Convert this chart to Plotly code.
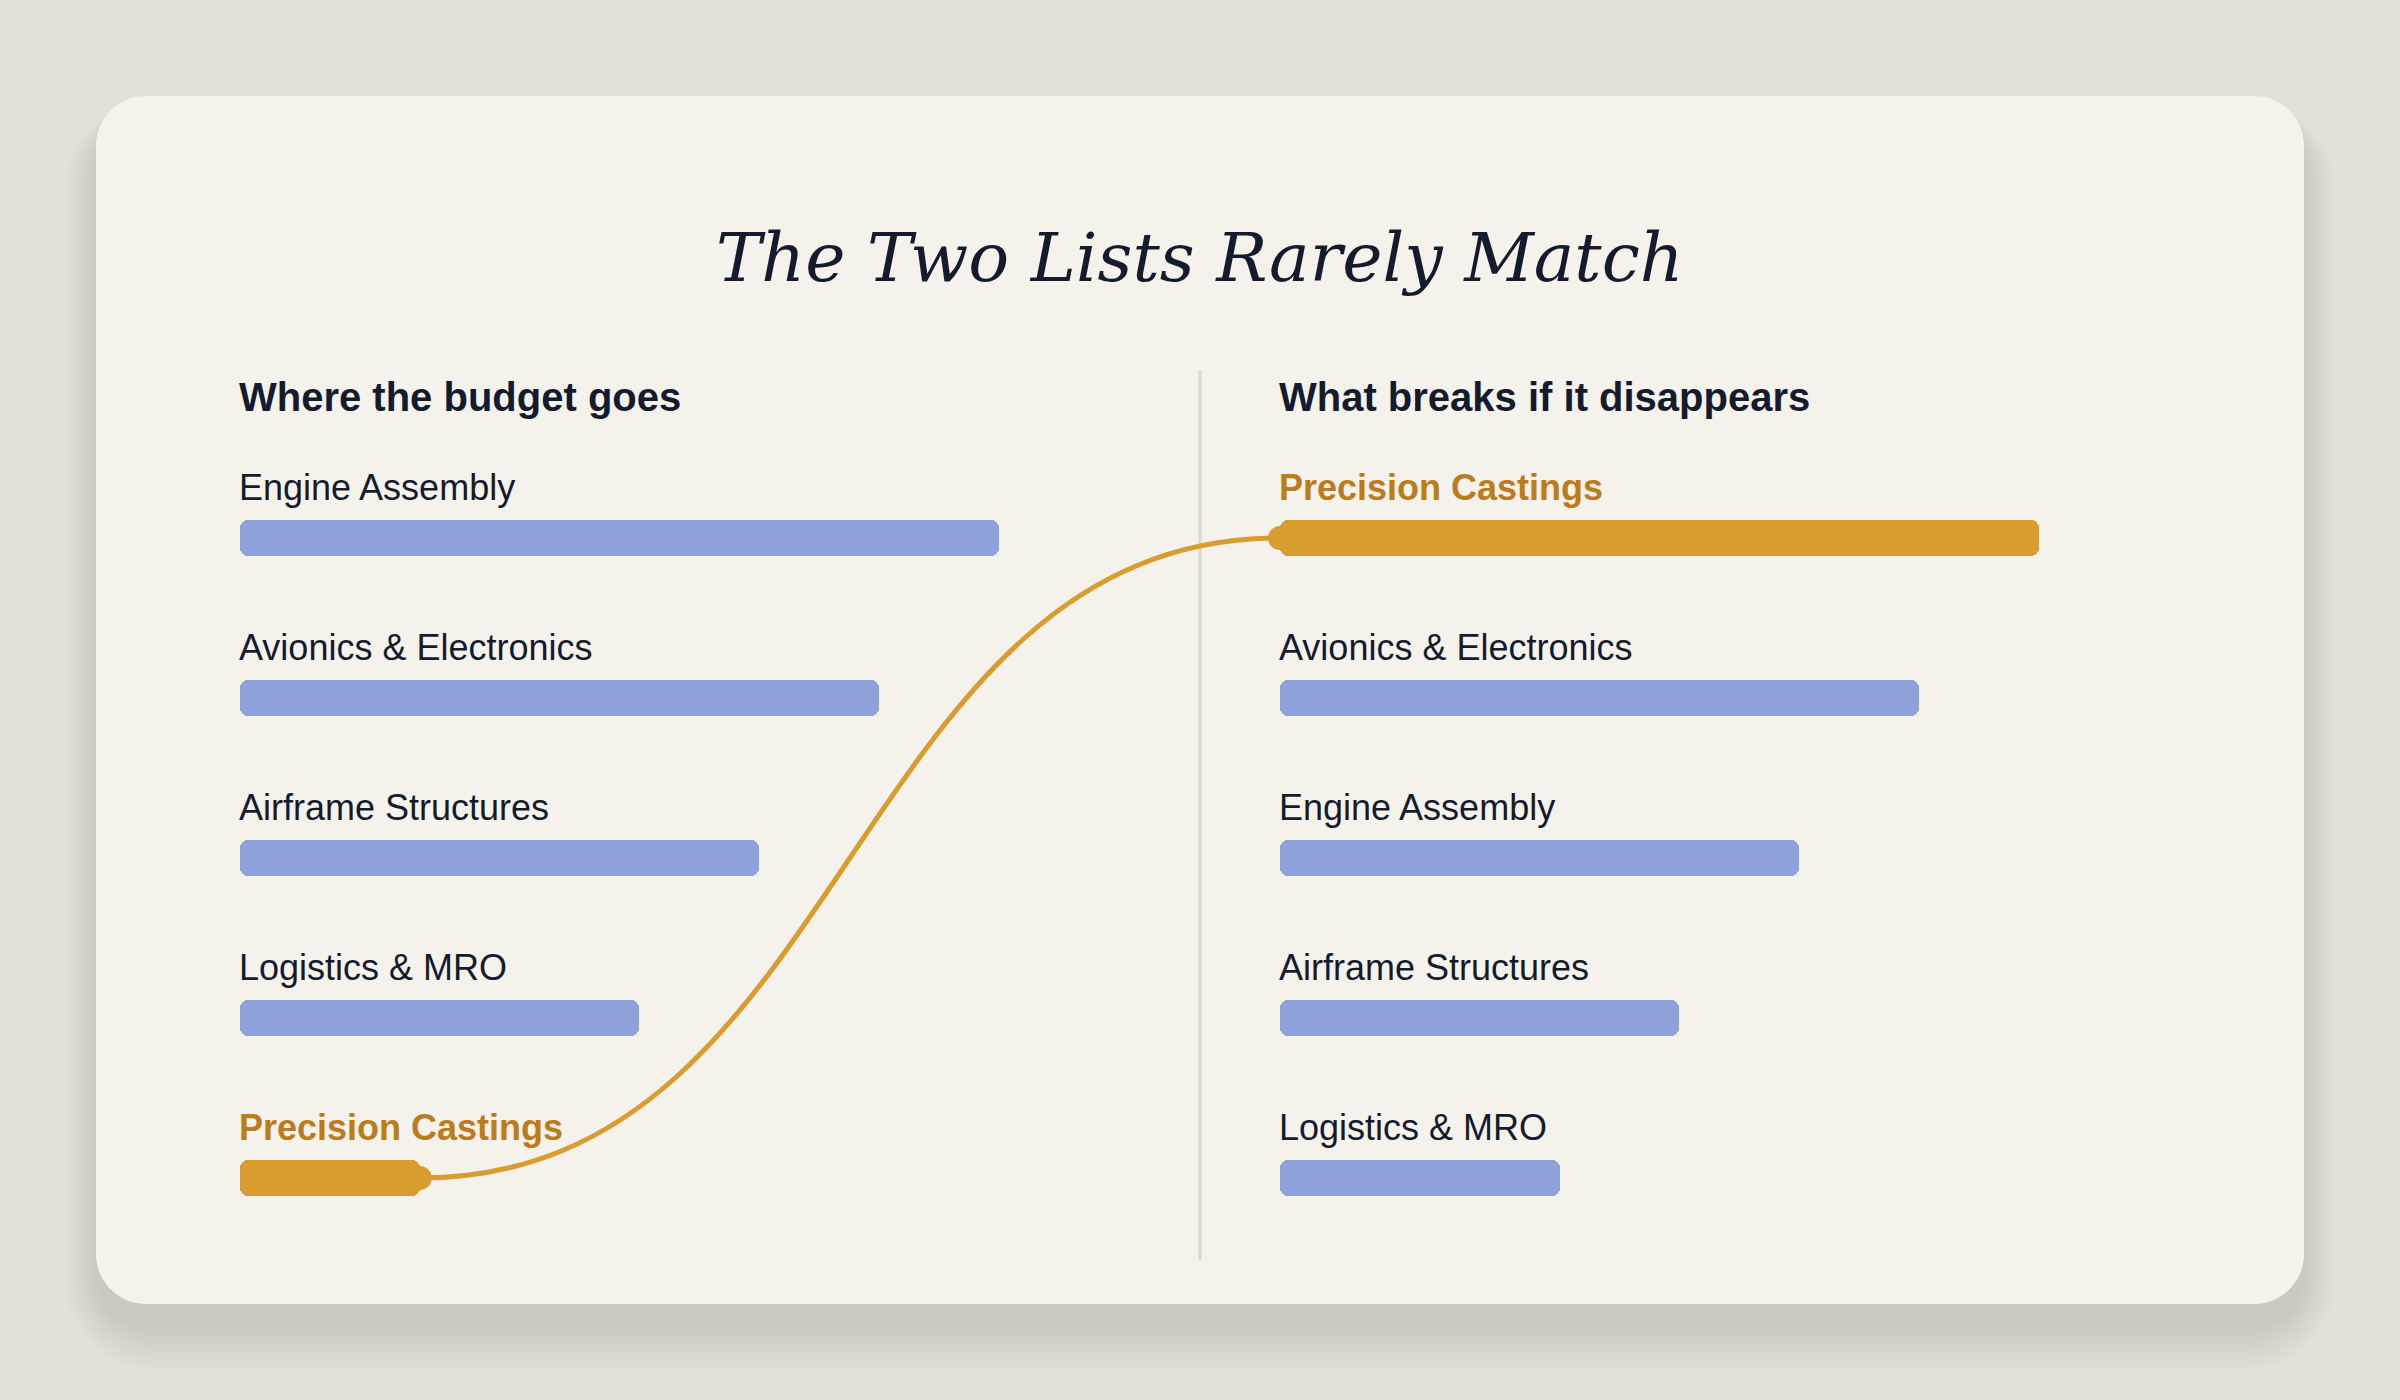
import plotly.graph_objects as go

# ---------------- data ----------------
left_title = "Where the budget goes"
right_title = "What breaks if it disappears"
chart_title = "The Two Lists Rarely Match"

left_items = ["Engine Assembly", "Avionics & Electronics", "Airframe Structures",
              "Logistics & MRO", "Precision Castings"]
left_values = [38, 32, 26, 20, 9]          # budget share

right_items = ["Precision Castings", "Avionics & Electronics", "Engine Assembly",
               "Airframe Structures", "Logistics & MRO"]
right_values = [95, 80, 65, 50, 35]        # criticality score

highlight = "Precision Castings"

# ---------------- style ----------------
W, H = 2400, 1400
BG = "#e3e0d9"
CARD = "#f5f2eb"
INK = "#141b2d"
BLUE = "#8fa1d9"
GOLD = "#d99c2f"
GOLD_TXT = "#bb7b1f"
DIVIDER = "#dcd7cd"
SANS = "Liberation Sans, Arial, Helvetica, sans-serif"
SERIF = "DejaVu Serif, serif"

def px(x):
    return x / W

def py(y):
    return 1 - y / H

# layout geometry (pixels)
L_X0, L_X1 = 240, 999
R_X0, R_X1 = 1280, 2039
ROW_TOP, ROW_STEP = 458, 160
n = len(left_items)
Y_TOP, Y_BOT = ROW_TOP, ROW_TOP + ROW_STEP * n
BAR_W = 36 / ROW_STEP

left_max = max(left_values)
right_max = max(right_values)
rows = list(range(n))

def left_x_px(v):
    return L_X0 + (L_X1 - L_X0) * v / left_max

def right_x_px(v):
    return R_X0 + (R_X1 - R_X0) * v / right_max

def row_px(i):
    return Y_TOP + ROW_STEP * (i + 0.5)

def rrect_path(x0, y0, x1, y1, r):
    k = 0.5523 * r
    P = lambda x, y: f"{px(x):.6f},{py(y):.6f}"
    return (f"M {P(x0 + r, y0)} L {P(x1 - r, y0)} "
            f"C {P(x1 - r + k, y0)} {P(x1, y0 + r - k)} {P(x1, y0 + r)} "
            f"L {P(x1, y1 - r)} "
            f"C {P(x1, y1 - r + k)} {P(x1 - r + k, y1)} {P(x1 - r, y1)} "
            f"L {P(x0 + r, y1)} "
            f"C {P(x0 + r - k, y1)} {P(x0, y1 - r + k)} {P(x0, y1 - r)} "
            f"L {P(x0, y0 + r)} "
            f"C {P(x0, y0 + r - k)} {P(x0 + r - k, y0)} {P(x0 + r, y0)} Z")

fig = go.Figure()

# bars: each bar is drawn as two overlapping parts growing outward,
# so that both ends of the visible bar get rounded corners
def add_rounded_bars(values, items, xa, ya):
    colors = [GOLD if s == highlight else BLUE for s in items]
    fig.add_trace(go.Bar(   # left part: [0, 0.6v], rounded at 0
        x=[-0.6 * v for v in values], base=[0.6 * v for v in values], y=rows,
        orientation="h", width=BAR_W,
        marker=dict(color=colors, line=dict(width=0), cornerradius=8),
        xaxis=xa, yaxis=ya, hoverinfo="skip", showlegend=False))
    fig.add_trace(go.Bar(   # right part: [0.4v, v], rounded at v
        x=[0.6 * v for v in values], base=[0.4 * v for v in values], y=rows,
        orientation="h", width=BAR_W,
        marker=dict(color=colors, line=dict(width=0), cornerradius=8),
        xaxis=xa, yaxis=ya, hoverinfo="skip", showlegend=False))

add_rounded_bars(left_values, left_items, "x", "y")
add_rounded_bars(right_values, right_items, "x2", "y2")

# knobs at the connector ends
li = left_items.index(highlight)
ri = right_items.index(highlight)
fig.add_trace(go.Scatter(
    x=[left_values[li]], y=[li], mode="markers", xaxis="x", yaxis="y",
    marker=dict(size=24, color=GOLD, line=dict(width=0)),
    cliponaxis=False, hoverinfo="skip", showlegend=False))
fig.add_trace(go.Scatter(
    x=[0], y=[ri], mode="markers", xaxis="x2", yaxis="y2",
    marker=dict(size=24, color=GOLD, line=dict(width=0)),
    cliponaxis=False, hoverinfo="skip", showlegend=False))

shapes = []
# card shadow
CX0, CY0, CX1, CY1 = 96, 96, 2304, 1304
for e in range(0, 48, 4):
    shapes.append(dict(type="path", xref="paper", yref="paper", layer="below",
                       path=rrect_path(CX0 - e * 0.7, CY0 - e * 0.5 + 24,
                                       CX1 + e * 0.7, CY1 + e + 24, 50 + e),
                       fillcolor="rgba(70,60,45,0.012)", line=dict(width=0)))
# card
shapes.append(dict(type="path", xref="paper", yref="paper", layer="below",
                   path=rrect_path(CX0, CY0, CX1, CY1, 50),
                   fillcolor=CARD, line=dict(width=0)))
# divider
shapes.append(dict(type="line", xref="paper", yref="paper", layer="below",
                   x0=px(1200), x1=px(1200), y0=py(370), y1=py(1260),
                   line=dict(color=DIVIDER, width=3)))
# connector curve
x0c, y0c = left_x_px(left_values[li]), row_px(li)
x1c, y1c = right_x_px(0), row_px(ri)
xm = (x0c + x1c) / 2
shapes.append(dict(type="path", xref="paper", yref="paper", layer="below",
                   path=(f"M {px(x0c)},{py(y0c)} C {px(xm)},{py(y0c)} "
                         f"{px(xm)},{py(y1c)} {px(x1c)},{py(y1c)}"),
                   line=dict(color=GOLD, width=5)))

annotations = []
# title
annotations.append(dict(text=chart_title, xref="paper", yref="paper",
                        x=0.5, y=py(281 - 0.346 * 68), xanchor="center", yanchor="middle",
                        showarrow=False,
                        font=dict(family=SERIF, size=68, color=INK, style="italic")))
# column headers
for txt, x in [(left_title, L_X0), (right_title, R_X0)]:
    annotations.append(dict(text=f"<b>{txt}</b>", xref="paper", yref="paper",
                            x=px(x - 3), y=py(411 - 0.3465 * 40), xanchor="left",
                            yanchor="middle", showarrow=False,
                            font=dict(family=SANS, size=40, color=INK)))
# item labels
for items, xr, yr in [(left_items, "x", "y"), (right_items, "x2", "y2")]:
    for i, s in enumerate(items):
        hl = s == highlight
        annotations.append(dict(
            text=f"<b>{s}</b>" if hl else s, xref=xr, yref=yr, x=0, y=i,
            xanchor="left", yanchor="middle", xshift=-3, yshift=50.5,
            showarrow=False,
            font=dict(family=SANS, size=36, color=GOLD_TXT if hl else INK)))

ydom = [py(Y_BOT), py(Y_TOP)]
axis_common = dict(showgrid=False, zeroline=False, showticklabels=False,
                   showline=False, ticks="", fixedrange=True)
fig.update_layout(
    width=W, height=H, margin=dict(l=0, r=0, t=0, b=0),
    paper_bgcolor=BG, plot_bgcolor="rgba(0,0,0,0)",
    xaxis=dict(domain=[px(L_X0), px(L_X1)], range=[0, left_max], **axis_common),
    xaxis2=dict(domain=[px(R_X0), px(R_X1)], range=[0, right_max], anchor="y2", **axis_common),
    yaxis=dict(domain=ydom, range=[n - 0.5, -0.5], anchor="x", **axis_common),
    yaxis2=dict(domain=ydom, range=[n - 0.5, -0.5], anchor="x2", **axis_common),
    shapes=shapes, annotations=annotations, barmode="overlay", bargap=0,
    showlegend=False,
)

fig.write_html("out.html", config={"displayModeBar": False},
               post_script="document.body.style.margin='0';"
                           "document.body.style.background='" + BG + "';")
